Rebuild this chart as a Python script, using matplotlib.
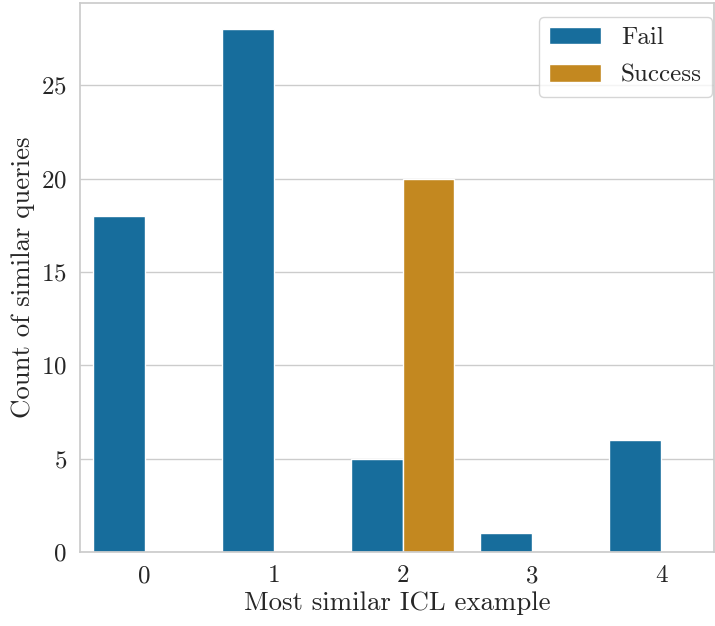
from matplotlib import use; use("Agg")
import matplotlib.pyplot as plt
import seaborn as sns
import pandas as pd

# counts
examples = [0, 1, 2, 3, 4]
fail = [18, 28, 5, 1, 6]
success = [0, 0, 20, 0, 0]

df = pd.DataFrame({
    "example": examples * 2,
    "count": fail + success,
    "outcome": ["Fail"] * len(fail) + ["Success"] * len(success),
})

sns.set_theme(style="whitegrid", palette="colorblind")
plt.rcParams["font.family"] = "serif"
plt.rcParams["font.serif"] = ["cmr10", "DejaVu Serif"]
plt.rcParams["mathtext.fontset"] = "cm"
plt.rcParams["axes.formatter.use_mathtext"] = True
plt.rcParams["axes.unicode_minus"] = False

fig = plt.figure(figsize=(7.15, 6.26), dpi=100)
ax = fig.add_axes([80/715, 1 - 552/626, 634/715, 549/626])
sns.barplot(data=df, x="example", y="count", hue="outcome", ax=ax)
ax.set_xlim(-0.5, 4.41)
ax.set_xlabel("Most similar ICL example", fontsize=19.3, labelpad=3)
ax.set_ylabel("Count of similar queries", fontsize=19.3)
ax.tick_params(labelsize=18)
ax.legend(title=None, loc="upper right", bbox_to_anchor=(0.997, 0.975),
          borderaxespad=0, fontsize=18, handlelength=2.1, labelspacing=0.6)
fig.savefig("out.png", dpi=100)
